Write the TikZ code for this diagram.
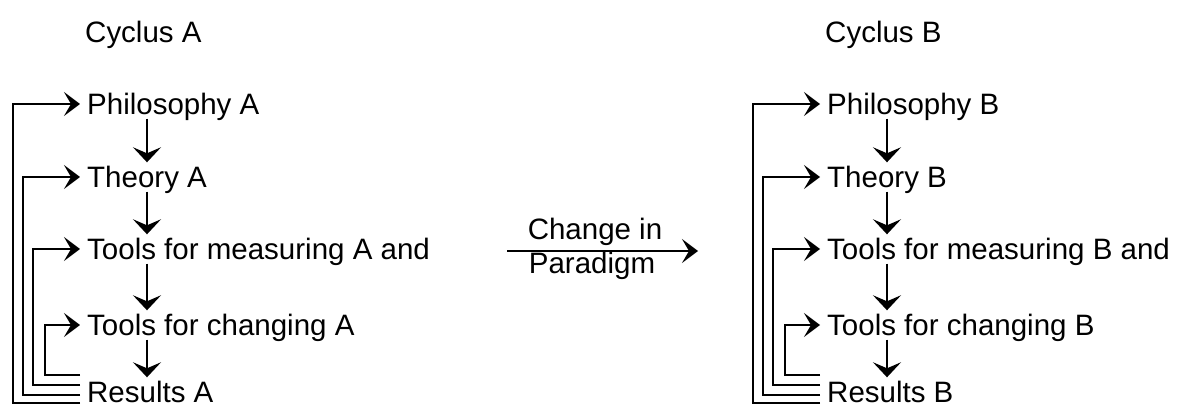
\documentclass[tikz,border=0pt]{standalone}
\usepackage{fontspec}
\setmainfont{Liberation Sans}
\usetikzlibrary{arrows.meta}
\tikzset{
  lbl/.style={anchor=west, inner xsep=7pt, inner ysep=4pt, text height=21pt, text depth=0pt,
    font=\fontsize{29.5}{34}\selectfont},
  plain/.style={inner sep=0pt, font=\fontsize{29.5}{34}\selectfont},
  arr/.style={line width=2.1pt, -{Stealth[length=16pt,width=24pt,inset=7pt]}},
  downarr/.style={line width=2.1pt, -{Stealth[length=15pt,width=28pt,inset=6pt]}},
  loopline/.style={line width=2.1pt, -{Stealth[length=16pt,width=24pt,inset=7pt]}},
}
\newcommand{\mycycle}[2]{%
  \node[plain, anchor=base west] (cy#1) at (#2+85,43) {Cyclus #1};
  \node[lbl] (ph#1) at (#2+80,104) {Philosophy #1};
  \node[lbl] (th#1) at (#2+80,177) {Theory #1};
  \node[lbl] (me#1) at (#2+80,249) {Tools for measuring #1 and};
  \node[lbl] (ch#1) at (#2+80,325) {Tools for changing #1};
  \node[lbl] (re#1) at (#2+80,392) {Results #1};
  \draw[downarr] ([xshift=67pt]ph#1.south west) -- ([xshift=67pt]th#1.north west);
  \draw[downarr] ([xshift=67pt]th#1.south west) -- ([xshift=67pt]me#1.north west);
  \draw[downarr] ([xshift=67pt]me#1.south west) -- ([xshift=67pt]ch#1.north west);
  \draw[downarr] ([xshift=67pt]ch#1.south west) -- ([xshift=67pt]re#1.north west);
  \draw[loopline] ([yshift=17pt]re#1.west) -- ++(-35,0) |- (ch#1.west);
  \draw[loopline] ([yshift=7pt]re#1.west) -- ++(-47,0) |- (me#1.west);
  \draw[loopline] ([yshift=-3pt]re#1.west) -- ++(-57,0) |- (th#1.west);
  \draw[loopline] ([yshift=-11pt]re#1.west) -- ++(-67,0) |- (ph#1.west);
}
\begin{document}
\begin{tikzpicture}[x=1pt,y=-1pt]
\useasboundingbox (0,0) rectangle (1184,406);
\mycycle{A}{0}
\mycycle{B}{740}
\coordinate (m1) at (507,251);
\coordinate (m2) at (698,251);
\draw[arr] (m1) -- (m2);
\node[plain, anchor=base] (chg) at (595,240) {Change in};
\node[plain, anchor=base] (par) at (592,274) {Paradigm};
\end{tikzpicture}
\end{document}
